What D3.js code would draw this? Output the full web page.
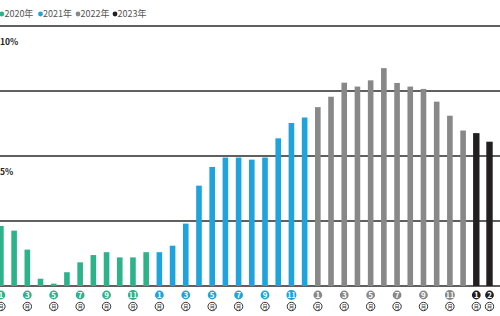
<!DOCTYPE html>
<html>
<head>
<meta charset="utf-8">
<script src="https://cdn.jsdelivr.net/npm/d3@7"></script>
<style>
  html, body { margin: 0; padding: 0; background: #fff; }
  svg { display: block; }
  text { font-family: "Noto Sans CJK JP", "Noto Sans", sans-serif; }
</style>
</head>
<body>
<div id="chart"></div>
<script>
// values (percent)
const years = ["2020年", "2021年", "2022年", "2023年"];
const yearColors = ["#2db38a", "#1ea3dc", "#888889", "#231f20"];
const v2020 = [2.31, 2.13, 1.40, 0.28, 0.09, 0.53, 0.91, 1.19, 1.30, 1.10, 1.10, 1.30];
const v2021 = [1.30, 1.55, 2.40, 3.86, 4.58, 4.94, 4.94, 4.86, 4.94, 5.68, 6.27, 6.48];
const v2022 = [6.88, 7.28, 7.82, 7.67, 7.91, 8.38, 7.81, 7.67, 7.58, 7.09, 6.55, 5.98];
const v2023 = [5.88, 5.55];
const monthNames = ["1", "2", "3", "4", "5", "6", "7", "8", "9", "10", "11", "12"];
const labelledMonths = [["1", "3", "5", "7", "9", "11"], ["1", "3", "5", "7", "9", "11"],
                        ["1", "3", "5", "7", "9", "11"], ["1", "2"]];
const gridValues = [0, 2.5, 5, 7.5, 10];
const axisLabels = [[10, "10%"], [5, "5%"]];

function init() {
    const w = 500;
    const h = 316;

    let rows = [];
    [v2020, v2021, v2022, v2023].forEach(function (vals, yi) {
        vals.forEach(function (v, mi) {
            rows.push({ key: yi + "-" + monthNames[mi], year: yi, month: monthNames[mi], value: v });
        });
    });

    const x = d3.scalePoint()
        .domain(rows.map(d => d.key))
        .range([0.9, 489.5]);

    const y = d3.scaleLinear()
        .domain([0, 10])
        .range([286, 26]);

    const svg = d3.select("#chart")
        .append("svg")
        .attr("width", w)
        .attr("height", h);

    // legend
    const leg = svg.append("g").attr("transform", "translate(0, 14)");
    const legX = [1.8, 40.5, 78, 115];
    years.forEach(function (yr, i) {
        leg.append("circle")
            .attr("cx", legX[i])
            .attr("cy", 0)
            .attr("r", 2.4)
            .attr("fill", yearColors[i]);
        leg.append("text")
            .attr("x", legX[i] + 2.6)
            .attr("y", 3.2)
            .attr("font-size", 9)
            .attr("fill", "#555")
            .text(yr);
    });

    // grid lines
    svg.selectAll("line.grid")
        .data(gridValues)
        .enter().append("line")
        .attr("class", "grid")
        .attr("x1", 0)
        .attr("x2", w)
        .attr("y1", d => y(d))
        .attr("y2", d => y(d))
        .attr("stroke", "#2b2b2b")
        .attr("stroke-width", d => d === 10 ? 1.6 : 1.3);

    svg.selectAll("text.ylab")
        .data(axisLabels)
        .enter().append("text")
        .attr("class", "ylab")
        .attr("x", 0)
        .attr("y", d => y(d[0]) + 19)
        .attr("font-size", 8.5)
        .attr("font-weight", "bold")
        .attr("fill", "#222")
        .text(d => d[1]);

    // bars
    svg.selectAll("rect.bar")
        .data(rows)
        .enter().append("rect")
        .attr("class", "bar")
        .attr("x", d => x(d.key) - (d.year === 3 ? 3.2 : 2.8))
        .attr("width", d => d.year === 3 ? 6.4 : 5.6)
        .attr("y", d => y(d.value))
        .attr("height", d => y(0) - y(d.value))
        .attr("fill", d => yearColors[d.year]);

    // month markers
    const marks = rows.filter(d => labelledMonths[d.year].includes(d.month));
    const mg = svg.selectAll("g.mark")
        .data(marks)
        .enter().append("g")
        .attr("class", "mark")
        .attr("transform", d => "translate(" + x(d.key) + ",0)");

    mg.append("circle")
        .attr("cy", 295)
        .attr("r", d => d.month.length > 1 ? 5 : 4.4)
        .attr("fill", d => yearColors[d.year]);
    mg.append("text")
        .attr("y", 298)
        .attr("text-anchor", "middle")
        .attr("font-size", d => d.month.length > 1 ? 7 : 8)
        .attr("font-weight", "bold")
        .attr("fill", "#fff")
        .text(d => d.month);

    mg.append("circle")
        .attr("cy", 306.5)
        .attr("r", 4.2)
        .attr("fill", "#fff")
        .attr("stroke", "#333")
        .attr("stroke-width", 1);
    mg.append("text")
        .attr("y", 308.8)
        .attr("text-anchor", "middle")
        .attr("font-size", 5.5)
        .attr("fill", "#333")
        .text("月");
}

window.onload = init;
</script>
</body>
</html>
